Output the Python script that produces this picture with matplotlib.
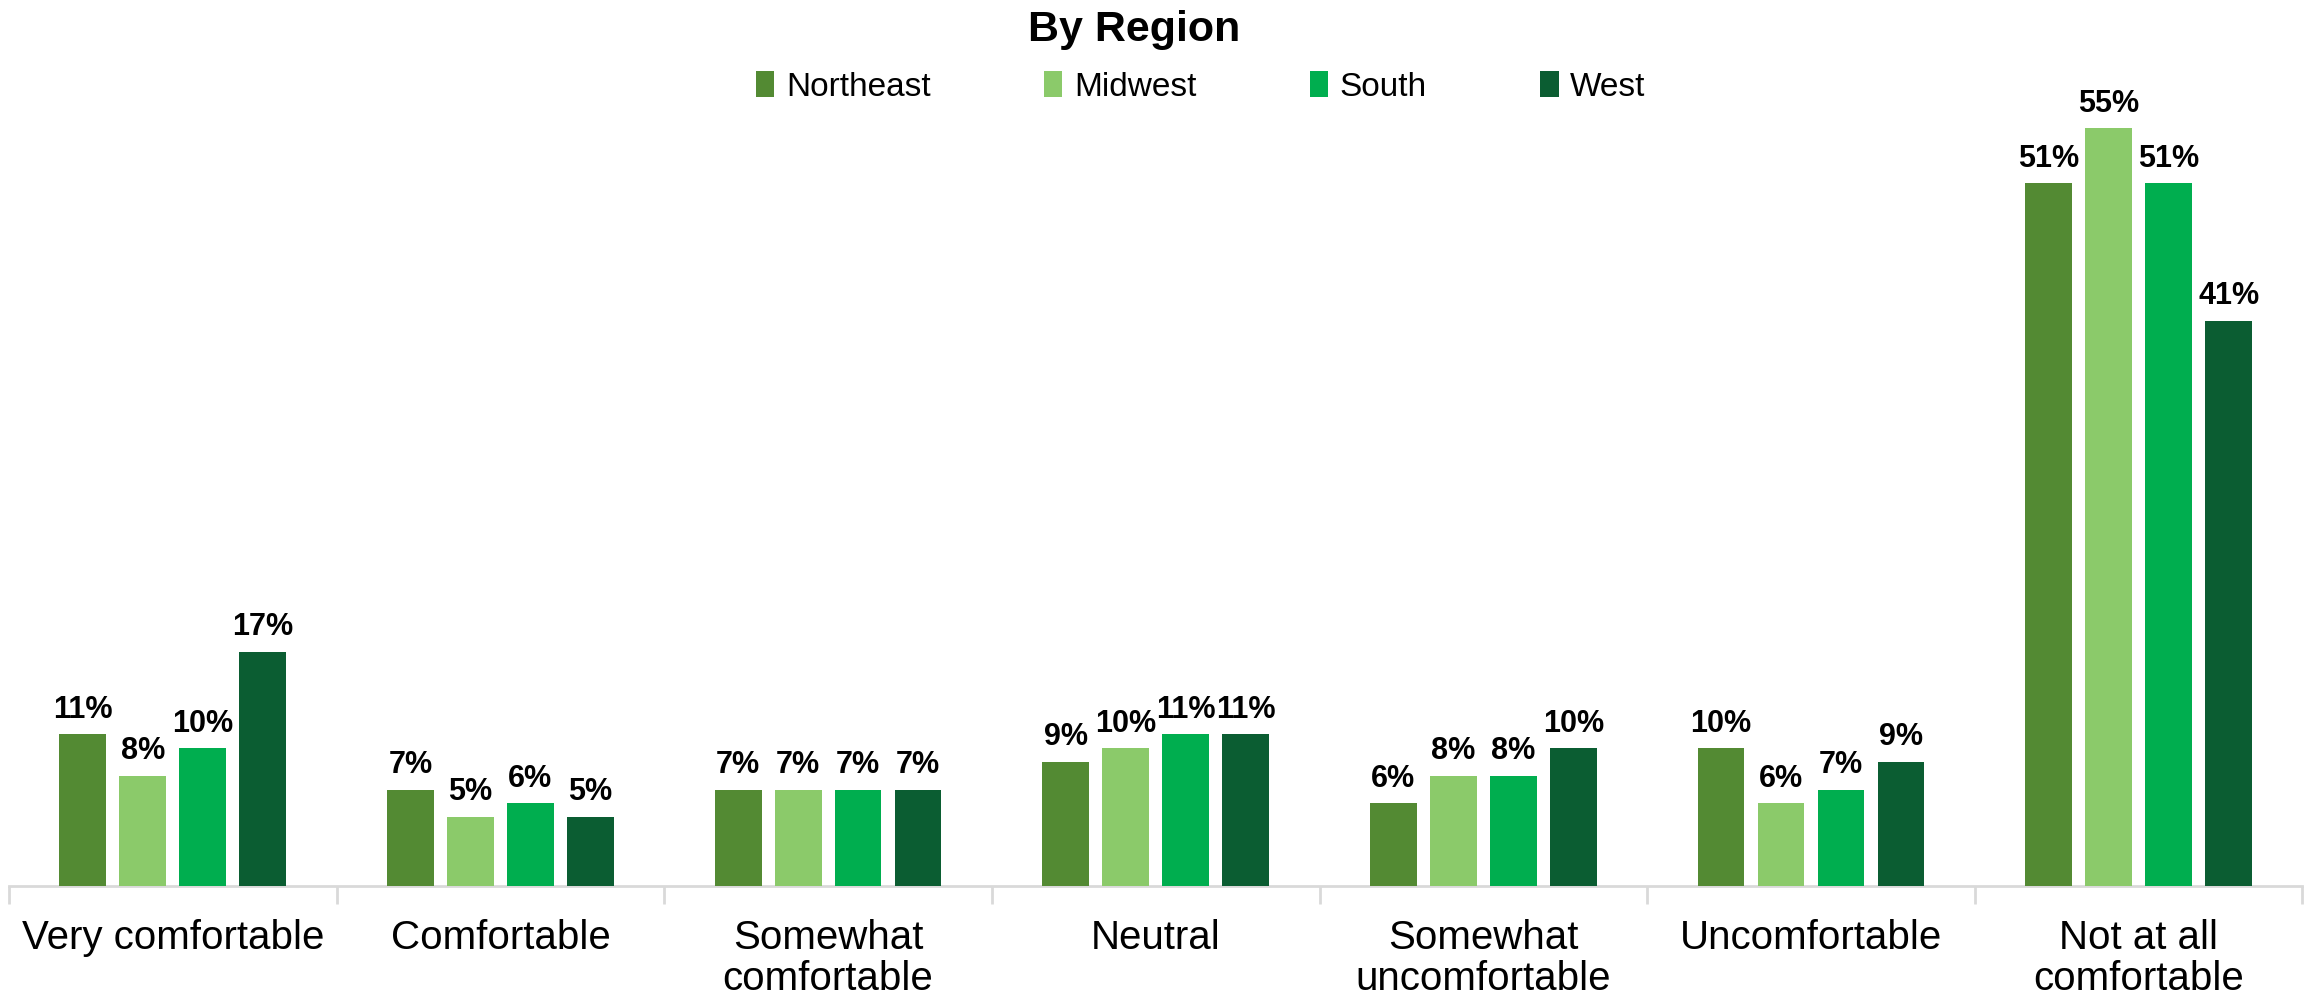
import matplotlib
matplotlib.use("Agg")
import matplotlib.pyplot as plt
import numpy as np

categories = ["Very comfortable", "Comfortable", "Somewhat\ncomfortable", "Neutral",
              "Somewhat\nuncomfortable", "Uncomfortable", "Not at all\ncomfortable"]
series_names = ["Northeast", "Midwest", "South", "West"]
northeast = [11, 7, 7, 9, 6, 10, 51]
midwest = [8, 5, 7, 10, 8, 6, 55]
south = [10, 6, 7, 11, 8, 7, 51]
west = [17, 5, 7, 11, 10, 9, 41]
colors = ["#538A33", "#8BCA6A", "#00AE4F", "#0B5D32"]
title = "By Region"

FAM = ["Liberation Sans", "DejaVu Sans"]
plt.rcParams['font.family'] = FAM

fig = plt.figure(figsize=(23.05, 9.98), dpi=100)
ax = fig.add_axes([0.0039, 0.1122, 0.995, 0.8006])

data = [northeast, midwest, south, west]
x = np.arange(len(categories))
width = 0.143
pitch = 0.183
for i, (vals, name, c) in enumerate(zip(data, series_names, colors)):
    pos = x + (i - 1.5) * pitch
    bars = ax.bar(pos, vals, width, color=c, label=name, zorder=3)
    for b, v in zip(bars, vals):
        ax.annotate(f"{v}%", (b.get_x() + b.get_width() / 2, v), xytext=(0, 7),
                    textcoords="offset points", ha="center", va="bottom",
                    fontsize=22, fontweight="bold", color="#000000")

ax.set_xlim(-0.5, len(categories) - 0.5)
ax.set_ylim(0, 58)
ax.set_yticks([])
for s in ["top", "right", "left"]:
    ax.spines[s].set_visible(False)
ax.spines["bottom"].set_color("#D9D9D9")
ax.spines["bottom"].set_linewidth(2)

ax.set_xticks(np.arange(-0.5, len(categories), 1.0))
ax.set_xticklabels([])
ax.tick_params(axis="x", length=13, width=2, color="#D9D9D9")
ax.set_xticks(x, minor=True)
ax.set_xticklabels(categories, minor=True, fontsize=29, linespacing=1.1)
ax.tick_params(axis="x", which="minor", length=0, pad=24)

fig.text(0.492, 0.99, title, ha="center", va="top", fontsize=31, fontweight="bold")
leg = fig.legend(loc="center", bbox_to_anchor=(0.521, 0.913), ncol=4, frameon=False,
                 fontsize=24, handlelength=0.55, handleheight=0.85, handletextpad=0.35,
                 columnspacing=3.4)

fig.savefig("out.png", dpi=100)
